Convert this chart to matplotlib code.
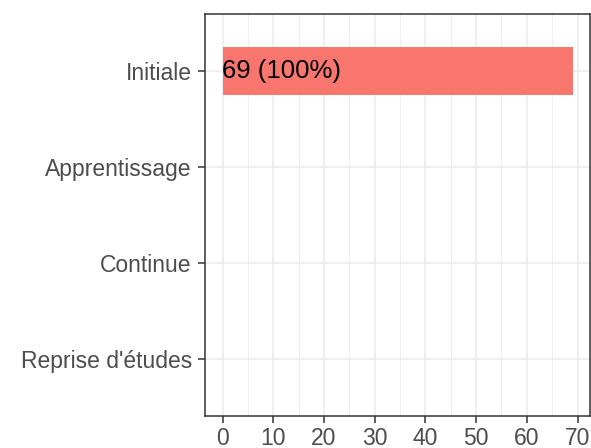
import matplotlib
matplotlib.use("Agg")
import matplotlib.pyplot as plt
from matplotlib.ticker import MultipleLocator

plt.rcParams['font.family'] = ['Liberation Sans', 'DejaVu Sans']

categories = ["Reprise d'études", "Continue", "Apprentissage", "Initiale"]
counts = [0, 0, 0, 69]
total = sum(counts)

fig = plt.figure(figsize=(5.91, 4.48), dpi=100)
ax = fig.add_axes([205/591, 32/448, 385/591, 402/448])

pos = list(range(1, len(categories) + 1))
ax.barh(pos, counts, height=0.5, color='#F8766D', zorder=3)
for p, c in zip(pos, counts):
    if c > 0:
        ax.text(0, p, f"{c} ({c/total*100:.0f}%)", ha='left', va='center',
                fontsize=18.5, color='black', zorder=4)

ax.set_xlim(-3.45, 72.45)
ax.set_ylim(0.4, 4.6)
ax.set_yticks(pos)
ax.set_yticklabels(categories)
ax.xaxis.set_major_locator(MultipleLocator(10))
ax.xaxis.set_minor_locator(MultipleLocator(5))

ax.grid(which='major', color='#EBEBEB', linewidth=1.1, zorder=0)
ax.grid(which='minor', axis='x', color='#EBEBEB', linewidth=0.55, zorder=0)
ax.tick_params(which='major', length=5, width=1.1, color='#333333',
               labelcolor='#4D4D4D', labelsize=16.5, pad=3)
ax.tick_params(axis='y', pad=4.5)
ax.tick_params(which='minor', length=0)
for s in ax.spines.values():
    s.set_color('#333333')
    s.set_linewidth(1.1)
ax.set_axisbelow(True)

fig.savefig('out.png', dpi=100)
